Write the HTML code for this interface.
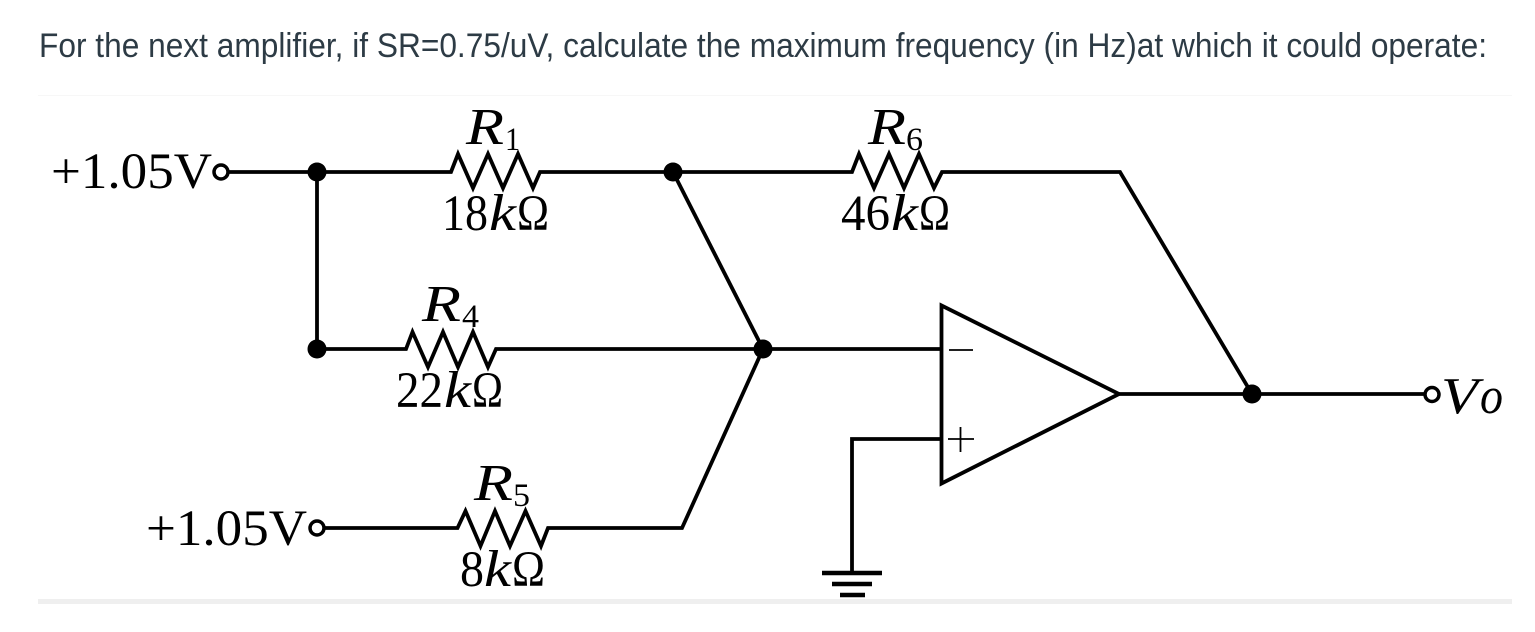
<!DOCTYPE html>
<html>
<head>
<meta charset="utf-8">
<style>
html,body{margin:0;padding:0;background:#fff;width:1535px;height:632px;overflow:hidden}
svg{display:block}
.q{font-family:"Liberation Sans",sans-serif;font-size:34.5px;fill:#2d3b45}
.m{font-family:"Liberation Serif",serif;font-size:51px;fill:#000}
.i{font-family:"Liberation Serif",serif;font-size:52px;font-style:italic;fill:#000}
.s{font-family:"Liberation Serif",serif;font-size:33px;fill:#000}
.w{fill:none;stroke:#000;stroke-width:3.8;stroke-linejoin:miter}
</style>
</head>
<body>
<svg width="1535" height="632" viewBox="0 0 1535 632" xmlns="http://www.w3.org/2000/svg">
<rect width="1535" height="632" fill="#fff"/>
<text class="q" x="39" y="57" textLength="1448" lengthAdjust="spacingAndGlyphs">For the next amplifier, if SR=0.75/uV, calculate the maximum frequency (in Hz)at which it could operate:</text>
<rect x="38" y="95" width="1474" height="1" fill="#f7f7f7"/>
<rect x="38" y="599" width="1474" height="5" fill="#efefef"/>

<!-- wires -->
<path class="w" d="M229 172H451L458 154L473 188L488 154L503 188L518 154L533 188L540 172H852L859 154L874 188L889 154L904 188L919 154L934 188L942 172H1120L1252 394"/>
<path class="w" d="M317 172V349H406L412.500 332L428 367L443 332L458 367L473 332L488 367L496 349H940"/>
<path class="w" d="M673 172L763 349"/>
<path class="w" d="M325 528H457.500L465.500 511L480.500 546L495 511L510 546L525.500 511L541 546L548 528H682L763 349"/>

<!-- opamp -->
<path d="M941.500 305.500V483.500L1119 394Z" fill="none" stroke="#000" stroke-width="3.800"/>
<path d="M949 350H973M948 439H974M960.500 427V452" fill="none" stroke="#000" stroke-width="1.800"/>
<path class="w" d="M1119 394H1425"/>
<path class="w" d="M940 439H852V573"/>
<path d="M822 573H882" stroke="#000" stroke-width="4.500"/>
<path d="M832 584H872" stroke="#000" stroke-width="4.500"/>
<path d="M840 595H865" stroke="#000" stroke-width="4.500"/>

<!-- nodes -->
<circle cx="317" cy="172" r="9.500"/>
<circle cx="317" cy="349" r="9.500"/>
<circle cx="673" cy="172" r="9.500"/>
<circle cx="763" cy="349" r="9.500"/>
<circle cx="1252" cy="394" r="9.500"/>
<circle cx="221" cy="172" r="7" fill="#fff" stroke="#000" stroke-width="3.500"/>
<circle cx="317" cy="528" r="7" fill="#fff" stroke="#000" stroke-width="3.500"/>
<circle cx="1432" cy="394.500" r="7" fill="#fff" stroke="#000" stroke-width="3.500"/>

<!-- labels -->
<text class="m" x="51" y="188" textLength="161" lengthAdjust="spacingAndGlyphs">+1.05V</text>
<text class="m" x="146" y="545" textLength="161" lengthAdjust="spacingAndGlyphs">+1.05V</text>

<text class="i" x="466" y="144" textLength="38" lengthAdjust="spacingAndGlyphs">R</text>
<text class="s" x="505" y="150" textLength="15" lengthAdjust="spacingAndGlyphs">1</text>
<text class="m" x="442" y="230" textLength="46" lengthAdjust="spacingAndGlyphs">18</text>
<text class="i" x="489" y="230" textLength="27" lengthAdjust="spacingAndGlyphs">k</text>
<text class="m" x="517" y="230" textLength="32" lengthAdjust="spacingAndGlyphs">Ω</text>

<text class="i" x="868" y="144" textLength="38" lengthAdjust="spacingAndGlyphs">R</text>
<text class="s" x="906" y="150" textLength="17" lengthAdjust="spacingAndGlyphs">6</text>
<text class="m" x="841" y="230" textLength="49" lengthAdjust="spacingAndGlyphs">46</text>
<text class="i" x="891" y="230" textLength="27" lengthAdjust="spacingAndGlyphs">k</text>
<text class="m" x="919" y="230" textLength="31" lengthAdjust="spacingAndGlyphs">Ω</text>

<text class="i" x="422" y="321" textLength="39" lengthAdjust="spacingAndGlyphs">R</text>
<text class="s" x="462" y="327" textLength="17" lengthAdjust="spacingAndGlyphs">4</text>
<text class="m" x="396" y="407" textLength="47" lengthAdjust="spacingAndGlyphs">22</text>
<text class="i" x="444" y="407" textLength="27" lengthAdjust="spacingAndGlyphs">k</text>
<text class="m" x="472" y="407" textLength="31" lengthAdjust="spacingAndGlyphs">Ω</text>

<text class="i" x="474" y="500" textLength="39" lengthAdjust="spacingAndGlyphs">R</text>
<text class="s" x="513" y="506" textLength="17" lengthAdjust="spacingAndGlyphs">5</text>
<text class="m" x="460" y="586" textLength="24" lengthAdjust="spacingAndGlyphs">8</text>
<text class="i" x="484" y="586" textLength="27" lengthAdjust="spacingAndGlyphs">k</text>
<text class="m" x="512" y="586" textLength="33" lengthAdjust="spacingAndGlyphs">Ω</text>

<text class="i" x="1441" y="413" textLength="37" lengthAdjust="spacingAndGlyphs">V</text>
<text class="i" x="1480" y="413" textLength="23" lengthAdjust="spacingAndGlyphs">o</text>
</svg>
</body>
</html>
